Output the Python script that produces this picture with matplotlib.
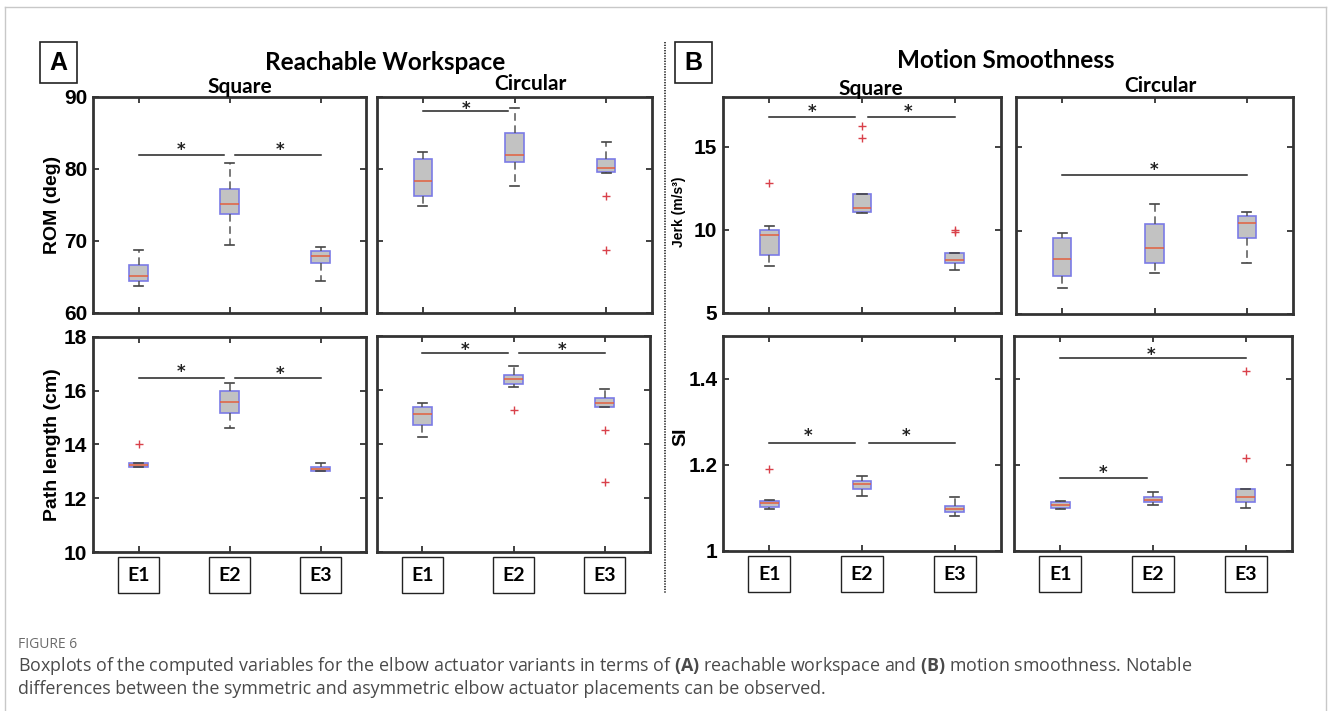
import matplotlib.pyplot as plt
from matplotlib.patches import Rectangle
from matplotlib.lines import Line2D
import matplotlib.transforms as mtransforms

plt.rcParams['mathtext.fontset'] = 'custom'
plt.rcParams['mathtext.rm'] = 'Open Sans'
plt.rcParams['mathtext.bf'] = 'Open Sans:bold'

W, H = 1328, 711

groups = ['E1', 'E2', 'E3']

# box stats per group: (whislo, q1, med, q3, whishi, fliers)
rom_square = [(63.7, 64.4, 65.1, 66.7, 68.7, []),
              (69.5, 73.7, 75.1, 77.2, 80.8, []),
              (64.5, 67.0, 67.9, 68.6, 69.2, [])]
rom_circular = [(74.8, 76.3, 78.4, 81.4, 82.3, []),
                (77.7, 81.0, 81.9, 85.0, 88.5, []),
                (79.5, 79.6, 80.2, 81.4, 83.7, [76.3, 68.7])]
path_square = [(13.15, 13.18, 13.25, 13.30, 13.32, [14.0]),
               (14.62, 15.16, 15.59, 15.98, 16.29, []),
               (13.0, 13.02, 13.08, 13.15, 13.30, [])]
path_circular = [(14.27, 14.69, 15.11, 15.38, 15.50, []),
                 (16.11, 16.21, 16.42, 16.55, 16.89, [15.27]),
                 (15.38, 15.38, 15.50, 15.71, 16.05, [14.5, 12.6])]
jerk_square = [(7.8, 8.5, 9.7, 10.0, 10.24, [12.84]),
               (11.0, 11.1, 11.3, 12.16, 12.16, [16.24, 15.52]),
               (7.56, 8.0, 8.2, 8.64, 8.64, [9.9, 10.0])]
jerk_circular = [(6.56, 7.3, 8.3, 9.54, 9.86, []),
                 (7.44, 8.06, 8.96, 10.4, 11.6, []),
                 (8.06, 9.54, 10.44, 10.88, 11.14, [])]
si_square = [(1.098, 1.103, 1.111, 1.117, 1.119, [1.19]),
             (1.128, 1.145, 1.155, 1.162, 1.175, []),
             (1.082, 1.090, 1.098, 1.105, 1.126, [])]
si_circular = [(1.098, 1.101, 1.107, 1.113, 1.117, []),
               (1.107, 1.113, 1.118, 1.125, 1.138, []),
               (1.100, 1.113, 1.125, 1.144, 1.144, [1.418, 1.217])]

# significance bars: (x_start, x_end, y, star_x, star_y)
sig_rom_square = [(1.0, 1.94, 82.0, 1.47, 83.2), (2.06, 3.0, 82.0, 2.55, 83.2)]
sig_rom_circular = [(1.0, 1.93, 88.1, 1.47, 88.9)]
sig_path_square = [(1.0, 1.94, 16.46, 1.47, 16.85), (2.06, 3.0, 16.46, 2.55, 16.78)]
sig_path_circular = [(1.0, 1.94, 17.37, 1.47, 17.65), (2.06, 3.0, 17.37, 2.53, 17.65)]
sig_jerk_square = [(1.0, 1.92, 16.8, 1.46, 17.35), (2.06, 3.0, 16.8, 2.5, 17.35)]
sig_jerk_circular = [(1.0, 3.0, 13.3, 2.0, 13.9)]
sig_si_square = [(1.0, 1.92, 1.252, 1.42, 1.278), (2.08, 3.0, 1.252, 2.48, 1.278)]
sig_si_circular = [(1.0, 3.0, 1.448, 1.98, 1.465), (1.0, 1.93, 1.169, 1.46, 1.19)]

tick_font = dict(family='Liberation Sans', weight='bold', size=15)
title_font = dict(family='Lato', weight='bold')

fig = plt.figure(figsize=(W / 100, H / 100), dpi=100)


def px_axes(l, t, r, b):
    return fig.add_axes([l / W, 1 - b / H, (r - l) / W, (b - t) / H])


def draw_boxes(ax, stats, sigs, ylim, yticks, ylabels=None, elabels=False):
    bx = [dict(whislo=s[0], q1=s[1], med=s[2], q3=s[3], whishi=s[4],
               fliers=s[5]) for s in stats]
    ax.bxp(bx, positions=[1, 2, 3], widths=0.2, patch_artist=True,
           capwidths=0.1,
           boxprops=dict(facecolor='#c2c2c2', edgecolor='#7b7be6', lw=1.2),
           medianprops=dict(color='#e2603f', lw=1.1),
           whiskerprops=dict(color='#555555', ls=(0, (5, 3)), lw=1.1),
           capprops=dict(color='#444444', lw=1.2),
           flierprops=dict(marker='+', markeredgecolor='#d9414a',
                           markersize=6, mew=1.0))
    # asterisk glyph sits high in its line box, nudge it down a little
    star_tr = mtransforms.offset_copy(ax.transData, fig=fig, x=0, y=-3,
                                      units='points')
    for x0, x1, y, sx, sy in sigs:
        ax.plot([x0, x1], [y, y], color='#222222', lw=1.1)
        ax.text(sx, sy, '*', ha='center', va='center', fontsize=12,
                fontweight='bold', color='#222222', transform=star_tr)
    ax.set_xlim(0.5, 3.5)
    ax.set_ylim(*ylim)
    ax.set_xticks([1, 2, 3])
    ax.set_xticklabels([])
    ax.set_yticks(yticks)
    if ylabels is None:
        ax.set_yticklabels([])
    else:
        ax.set_yticklabels(ylabels, fontdict=tick_font)
    ax.tick_params(direction='in', top=True, right=True, length=4,
                   width=1.3, color='#333333', pad=4)
    for sp in ax.spines.values():
        sp.set_linewidth(2)
        sp.set_color('#333333')
    if elabels:
        trans = mtransforms.blended_transform_factory(ax.transData, ax.transAxes)
        for i, g in enumerate(groups):
            ax.text(i + 1, -0.107, g, transform=trans, ha='center', va='center',
                    fontsize=14, fontweight='bold', family='Lato',
                    bbox=dict(boxstyle='square,pad=0.5', fc='white',
                              ec='#222222', lw=1.0))


ax = px_axes(93, 97, 366, 313)
draw_boxes(ax, rom_square, sig_rom_square, (60, 90), [60, 70, 80, 90],
           ['60', '70', '80', '90'])
ax = px_axes(377, 97, 652, 313)
draw_boxes(ax, rom_circular, sig_rom_circular, (60, 90), [60, 70, 80, 90])
ax = px_axes(93, 337, 366, 552)
draw_boxes(ax, path_square, sig_path_square, (10, 18), [10, 12, 14, 16, 18],
           ['10', '12', '14', '16', '18'], elabels=True)
ax = px_axes(377, 336, 650, 552)
draw_boxes(ax, path_circular, sig_path_circular, (10, 18), [10, 12, 14, 16, 18],
           elabels=True)

ax = px_axes(723, 97, 1001, 313)
draw_boxes(ax, jerk_square, sig_jerk_square, (5, 18), [5, 10, 15],
           ['5', '10', '15'])
ax = px_axes(1016, 97, 1293, 314)
draw_boxes(ax, jerk_circular, sig_jerk_circular, (5, 18), [5, 10, 15])
ax = px_axes(723, 336, 1001, 551)
draw_boxes(ax, si_square, sig_si_square, (1, 1.5), [1, 1.2, 1.4],
           ['1', '1.2', '1.4'], elabels=True)
ax = px_axes(1014, 336, 1292, 551)
draw_boxes(ax, si_circular, sig_si_circular, (1, 1.5), [1, 1.2, 1.4],
           elabels=True)


def ftext(x, y, s, **kw):
    return fig.text(x / W, 1 - y / H, s, **kw)


# y-axis labels
ftext(53, 205, 'ROM (deg)', rotation=90, ha='center', va='center',
      family='Liberation Sans', weight='bold', size=14)
ftext(53, 445, 'Path length (cm)', rotation=90, ha='center', va='center',
      family='Liberation Sans', weight='bold', size=14)
ftext(679, 212, 'Jerk (m/s³)', rotation=90, ha='center', va='center',
      family='Liberation Sans', weight='bold', size=10)
ftext(681, 437, 'SI', rotation=90, ha='center', va='center',
      family='Liberation Sans', weight='bold', size=14)

# group titles
ftext(385, 63, 'Reachable Workspace', ha='center', va='center', size=17.5, **title_font)
ftext(1006, 61, 'Motion Smoothness', ha='center', va='center', size=17.5, **title_font)
ftext(240, 87, 'Square', ha='center', va='center', size=15, **title_font)
ftext(530, 84, 'Circular', ha='center', va='center', size=15, **title_font)
ftext(871, 89, 'Square', ha='center', va='center', size=15, **title_font)
ftext(1160, 86, 'Circular', ha='center', va='center', size=15, **title_font)

# panel letters
for x0, y0, letter in [(40, 42, 'A'), (675, 42, 'B')]:
    fig.add_artist(Rectangle((x0 / W, 1 - (y0 + 41) / H), 37 / W, 41 / H,
                             transform=fig.transFigure, fill=False,
                             ec='#222222', lw=1.2))
    ftext(x0 + 18.5, y0 + 21, letter, ha='center', va='center',
          family='Liberation Sans', weight='bold', size=18)

# dotted separator between the two groups
fig.add_artist(Line2D([665 / W, 665 / W], [1 - 42 / H, 1 - 593 / H],
                      transform=fig.transFigure, color='#222222', lw=1.2,
                      ls=(0, (0.8, 0.8))))

# page frame
frame_kw = dict(transform=fig.transFigure, color='#c8c8c8', lw=1.0)
fig.add_artist(Line2D([5 / W, 1326 / W], [1 - 7 / H, 1 - 7 / H], **frame_kw))
fig.add_artist(Line2D([5 / W, 5 / W], [1 - 7 / H, 0], **frame_kw))
fig.add_artist(Line2D([1326 / W, 1326 / W], [1 - 7 / H, 0], **frame_kw))

# caption
ftext(18, 645, 'FIGURE 6', ha='left', va='center', family='Open Sans',
      size=10, color='#6b6b6b')
ftext(18, 666, r'Boxplots of the computed variables for the elbow actuator variants '
      r'in terms of $\mathbf{(A)}$ reachable workspace and $\mathbf{(B)}$ motion '
      r'smoothness. Notable', ha='left', va='center', family='Open Sans',
      size=12.9, color='#4a4a4a')
ftext(18, 689, 'differences between the symmetric and asymmetric elbow actuator '
      'placements can be observed.', ha='left', va='center', family='Open Sans',
      size=12.9, color='#4a4a4a')

fig.savefig('out.png', dpi=100)
